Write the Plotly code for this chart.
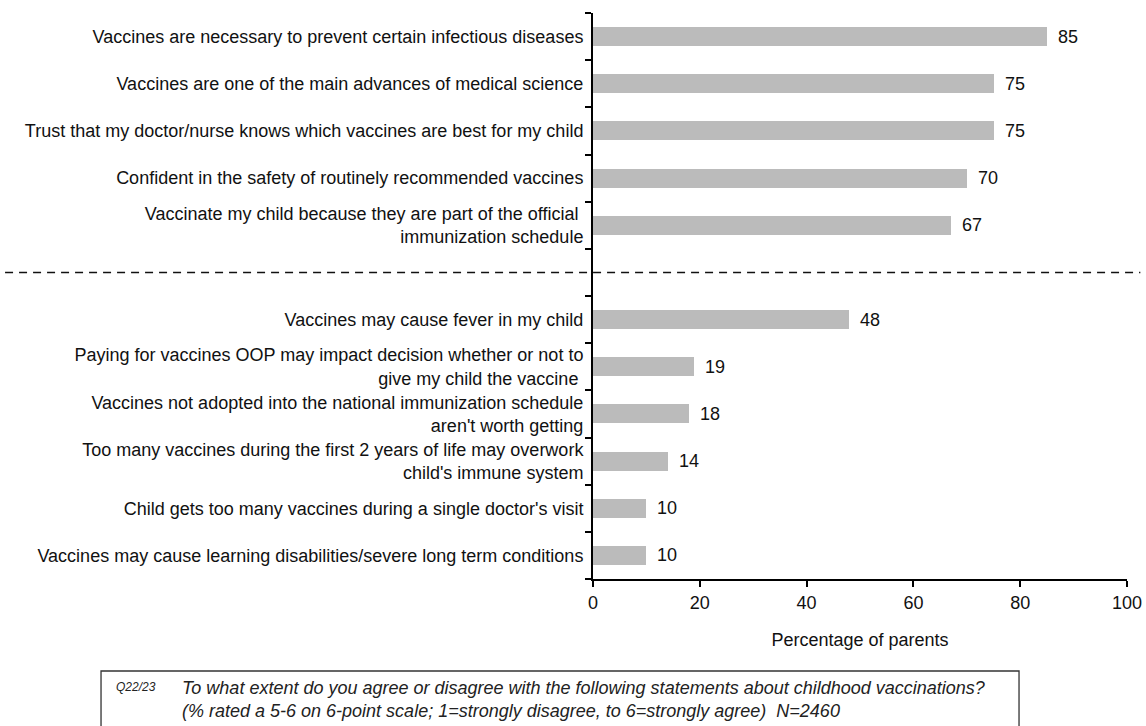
import plotly.graph_objects as go

# Survey statements (top group: positive attitudes, bottom group: concerns)
positive_labels = [
    "Vaccines are necessary to prevent certain infectious diseases",
    "Vaccines are one of the main advances of medical science",
    "Trust that my doctor/nurse knows which vaccines are best for my child",
    "Confident in the safety of routinely recommended vaccines",
    "Vaccinate my child because they are part of the official <br>immunization schedule",
]
positive_values = [85, 75, 75, 70, 67]

concern_labels = [
    "Vaccines may cause fever in my child",
    "Paying for vaccines OOP may impact decision whether or not to<br>give my child the vaccine ",
    "Vaccines not adopted into the national immunization schedule<br>aren't worth getting",
    "Too many vaccines during the first 2 years of life may overwork<br>child's immune system",
    "Child gets too many vaccines during a single doctor's visit",
    "Vaccines may cause learning disabilities/severe long term conditions",
]
concern_values = [48, 19, 18, 14, 10, 10]

x_ticks = [0, 20, 40, 60, 80, 100]

note_code = "Q22/23"
note_lines = [
    "To what extent do you agree or disagree with the following statements about childhood vaccinations?",
    "(% rated a 5-6 on 6-point scale; 1=strongly disagree, to 6=strongly agree)  N=2460",
]

FONT = "Liberation Sans, Arial, Helvetica, sans-serif"
FS = 18
INK = "#111111"

# Row positions: one empty row separates the two groups
pos_rows = list(range(len(positive_labels)))
gap_row = len(positive_labels)
con_rows = [gap_row + 1 + i for i in range(len(concern_labels))]
rows = pos_rows + con_rows
labels = positive_labels + concern_labels
values = positive_values + concern_values
n_rows = len(rows) + 1
boundaries = [r - 0.5 for r in range(n_rows + 1)]

fig = go.Figure()
fig.add_trace(go.Bar(
    x=values, y=rows, orientation="h",
    marker=dict(color="#bbbbbb", line=dict(width=0)),
    width=0.4, hoverinfo="skip",
))

# Value labels to the right of each bar
for v, r in zip(values, rows):
    fig.add_annotation(
        x=v, y=r, xref="x", yref="y", text=str(v), showarrow=False,
        xanchor="left", yanchor="middle", xshift=9,
        font=dict(family=FONT, size=FS, color=INK),
    )

# Dashed separator between the two groups
fig.add_shape(
    type="line", xref="paper", yref="y",
    x0=-1.101, x1=1.025, y0=gap_row, y1=gap_row,
    line=dict(color=INK, width=1.5, dash="8px,6px"),
)

# Question note box
fig.add_shape(
    type="rect", xref="paper", yref="paper",
    x0=-0.9213, x1=0.7978, y0=-0.1625, y1=-0.30,
    line=dict(color="#333333", width=1.3), fillcolor="rgba(0,0,0,0)",
)
fig.add_annotation(
    x=-0.897, y=-0.1908, xref="paper", yref="paper", showarrow=False,
    xanchor="left", yanchor="middle", text=f"<i>{note_code}</i>",
    font=dict(family=FONT, size=12, color="#222222"),
)
fig.add_annotation(
    x=-0.7734, y=-0.2129, xref="paper", yref="paper", showarrow=False,
    xanchor="left", yanchor="middle", align="left",
    text="<i>" + "<br>".join(note_lines) + "</i>",
    font=dict(family=FONT, size=FS, color="#222222"),
)

fig.update_layout(
    template="none",
    width=1146, height=726, autosize=False,
    margin=dict(l=593, r=19, t=13, b=147, pad=0),
    paper_bgcolor="white", plot_bgcolor="white",
    showlegend=False, bargap=0,
    font=dict(family=FONT, size=FS, color=INK),
    xaxis=dict(
        range=[0, 100], tickvals=x_ticks, ticktext=[str(t) for t in x_ticks],
        showgrid=False, zeroline=False, showline=True, linecolor="black", linewidth=2,
        ticks="outside", ticklen=6, tickwidth=2, tickcolor="black",
        tickfont=dict(family=FONT, size=FS, color=INK),
        title=dict(text="Percentage of parents", standoff=22,
                   font=dict(family=FONT, size=FS, color=INK)),
        automargin=False, fixedrange=True,
    ),
    yaxis=dict(
        range=[n_rows - 0.5, -0.5], tickvals=rows, ticktext=labels,
        showgrid=False, zeroline=False, showline=True, linecolor="black", linewidth=2,
        ticks="outside", ticklen=4, tickcolor="rgba(0,0,0,0)",
        tickfont=dict(family=FONT, size=FS, color=INK),
        minor=dict(tickvals=boundaries, ticks="outside", ticklen=6, tickwidth=2,
                   tickcolor="black", showgrid=False),
        automargin=False, fixedrange=True,
    ),
)

fig.write_html("out.html")
